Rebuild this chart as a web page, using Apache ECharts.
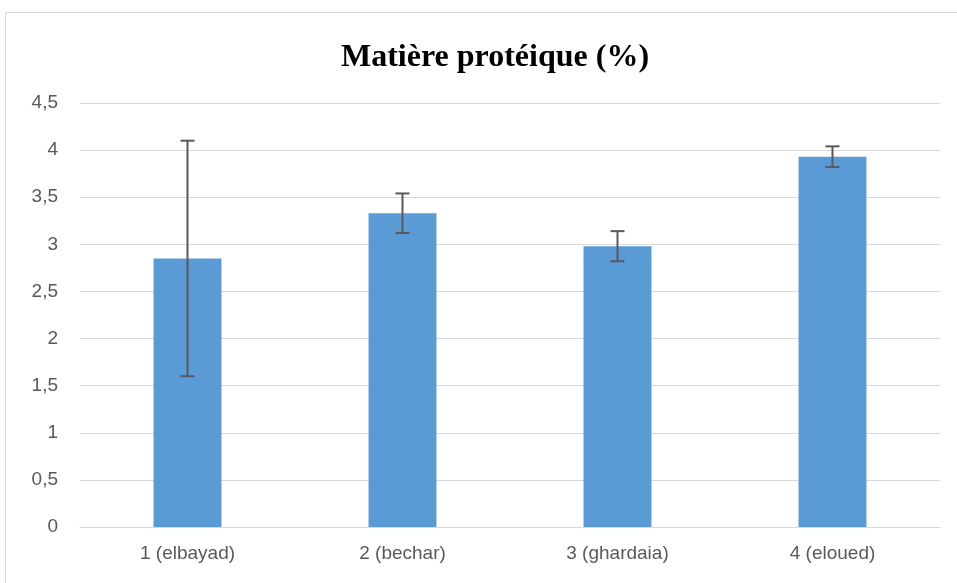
<!DOCTYPE html>
<html>
<head>
<meta charset="utf-8">
<script src="https://cdn.jsdelivr.net/npm/echarts@6/dist/echarts.min.js"></script>
<style>
  html, body { margin: 0; padding: 0; background: #fff; }
  #chart { width: 957px; height: 583px; }
</style>
</head>
<body>
<div id="chart"></div>
<script>
// données
const categories = ['1 (elbayad)', '2 (bechar)', '3 (ghardaia)', '4 (eloued)'];
const values = [2.85, 3.33, 2.98, 3.93];
const errors = [1.25, 0.21, 0.16, 0.11];
const yTicks = [0, 0.5, 1, 1.5, 2, 2.5, 3, 3.5, 4, 4.5];

const chart = echarts.init(document.getElementById('chart'));

const errData = values.map((v, i) => [i, v - errors[i], v + errors[i]]);

chart.setOption({
  animation: false,
  graphic: [{
    type: 'rect',
    shape: { x: 5.5, y: 12.5, width: 960, height: 600 },
    style: { fill: 'none', stroke: '#d9d9d9', lineWidth: 1 },
    silent: true
  }],
  title: {
    text: 'Matière protéique (%)',
    left: 490,
    textAlign: 'center',
    top: 37,
    textStyle: {
      fontFamily: 'Liberation Serif',
      fontWeight: 'bold',
      fontSize: 32,
      color: '#000'
    }
  },
  grid: { left: 80, right: 17, top: 103, bottom: 56 },
  xAxis: {
    type: 'category',
    data: categories,
    axisLine: { lineStyle: { color: '#d9d9d9', width: 1 } },
    axisTick: { show: false },
    axisLabel: {
      color: '#595959',
      fontFamily: 'Liberation Sans',
      fontSize: 19,
      margin: 17
    }
  },
  yAxis: {
    type: 'value',
    min: 0,
    max: 4.5,
    interval: 0.5,
    axisLine: { show: false },
    axisTick: { show: false },
    splitLine: { lineStyle: { color: '#d9d9d9', width: 1 } },
    axisLabel: {
      color: '#595959',
      fontFamily: 'Liberation Sans',
      fontSize: 19,
      margin: 22,
      formatter: v => yTicks.includes(v) ? String(v).replace('.', ',') : ''
    }
  },
  series: [
    {
      type: 'bar',
      data: values,
      barWidth: '31.6%',
      itemStyle: { color: '#5b9bd5' }
    },
    {
      type: 'custom',
      data: errData,
      z: 10,
      renderItem(params, api) {
        const x = api.value(0);
        const lo = api.coord([x, api.value(1)]);
        const hi = api.coord([x, api.value(2)]);
        const cap = 7;
        const style = { stroke: '#595959', lineWidth: 2 };
        return {
          type: 'group',
          children: [
            { type: 'line', shape: { x1: lo[0], y1: lo[1], x2: hi[0], y2: hi[1] }, style },
            { type: 'line', shape: { x1: lo[0] - cap, y1: lo[1], x2: lo[0] + cap, y2: lo[1] }, style },
            { type: 'line', shape: { x1: hi[0] - cap, y1: hi[1], x2: hi[0] + cap, y2: hi[1] }, style }
          ]
        };
      }
    }
  ]
});
</script>
</body>
</html>
